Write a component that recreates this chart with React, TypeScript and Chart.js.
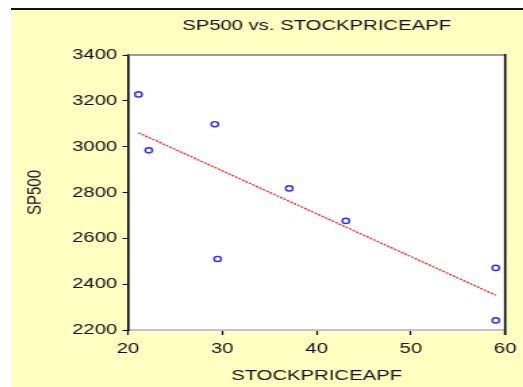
import React, { useEffect, useRef } from "react";
import { Chart, registerables } from "chart.js";

Chart.register(...registerables);

const chartTitle = "SP500 vs. STOCKPRICEAPF";
const xTitle = "STOCKPRICEAPF";
const yTitle = "SP500";

const stockPrice = [21.1, 22.2, 29.2, 29.5, 37.1, 43.1, 59.0, 59.0];
const sp500 = [3228, 2984, 3098, 2510, 2818, 2676, 2471, 2242];

const fitX = [21.1, 59.0];
const fitY = [3061, 2352];

const xTicks = [20, 30, 40, 50, 60];
const yTicks = [2200, 2400, 2600, 2800, 3000, 3200, 3400];

const FONT = '"Liberation Sans", Arial, sans-serif';
const TEXT = "#111111";
const SX = 523 / 387;

const framePlugin = {
  id: "frame",
  beforeDraw(chart: any) {
    const { ctx, chartArea } = chart;
    const { left, top, right, bottom } = chartArea;
    ctx.save();
    ctx.fillStyle = "#ffffff";
    ctx.fillRect(left, top, right - left, bottom - top);
    ctx.restore();
  },
  afterDraw(chart: any) {
    const { ctx, chartArea } = chart;
    const { left, top, right, bottom } = chartArea;
    ctx.save();
    ctx.strokeStyle = "#7a7a7a";
    ctx.lineWidth = 1.5;
    ctx.beginPath();
    ctx.moveTo(left, top);
    ctx.lineTo(right, top);
    ctx.stroke();
    ctx.strokeStyle = "#000000";
    ctx.lineWidth = 1.6;
    ctx.beginPath();
    ctx.moveTo(right, top - 1);
    ctx.lineTo(right, bottom + 5);
    ctx.stroke();
    ctx.fillStyle = TEXT;
    ctx.font = `15px ${FONT}`;
    ctx.textAlign = "center";
    ctx.textBaseline = "middle";
    ctx.fillText(chartTitle, (left + right) / 2, 16);
    ctx.restore();
  },
};

export default function App() {
  const ref = useRef<HTMLCanvasElement | null>(null);

  useEffect(() => {
    if (!ref.current) return;
    const chart = new Chart(ref.current, {
      type: "scatter",
      data: {
        datasets: [
          {
            label: "fit",
            data: fitX.map((x, i) => ({ x, y: fitY[i] })),
            showLine: true,
            borderColor: "#ff2020",
            borderWidth: 1.3,
            borderDash: [2, 1],
            pointRadius: 0,
            backgroundColor: "#ff2020",
          },
          {
            label: "obs",
            data: stockPrice.map((x, i) => ({ x, y: sp500[i] })),
            pointRadius: 2.6,
            pointBorderWidth: 1.4,
            pointBorderColor: "#2b2bff",
            pointBackgroundColor: "rgba(0,0,0,0)",
            borderColor: "#2b2bff",
            backgroundColor: "rgba(0,0,0,0)",
          },
        ],
      },
      plugins: [framePlugin],
      options: {
        responsive: false,
        animation: false,
        devicePixelRatio: 1,
        layout: { padding: { top: 45, right: 12, left: 0, bottom: 0 } },
        plugins: {
          legend: { display: false },
          title: { display: false },
          tooltip: { enabled: false },
        },
        scales: {
          x: {
            type: "linear",
            min: 20,
            max: 60,
            afterFit(scale: any) {
              scale.height = 57;
            },
            afterBuildTicks(scale: any) {
              scale.ticks = xTicks.map((v) => ({ value: v }));
            },
            ticks: {
              padding: 5,
              color: TEXT,
              font: { family: FONT, size: 15 },
              maxRotation: 0,
              callback: (v: any) => String(v),
            },
            grid: {
              drawOnChartArea: false,
              drawTicks: true,
              tickLength: 5,
              color: "#000",
              tickWidth: 1.2,
            },
            border: { display: true, color: "#c4c4c4", width: 2 },
            title: {
              display: true,
              text: xTitle,
              color: TEXT,
              font: { family: FONT, size: 15 },
              padding: { top: 0, bottom: 2.5 },
            },
          },
          y: {
            type: "linear",
            min: 2200,
            max: 3400,
            afterFit(scale: any) {
              scale.width = 86.6;
            },
            afterBuildTicks(scale: any) {
              scale.ticks = yTicks.map((v) => ({ value: v }));
            },
            ticks: {
              padding: 4,
              color: TEXT,
              font: { family: FONT, size: 15 },
              callback: (v: any) => String(v),
            },
            grid: {
              drawOnChartArea: false,
              drawTicks: true,
              tickLength: 4,
              color: "#000",
            },
            border: { display: true, color: "#000", width: 1.6 },
            title: {
              display: true,
              text: yTitle,
              color: TEXT,
              font: { family: FONT, size: 15 },
              padding: { top: 9.3, bottom: 0 },
            },
          },
        },
      },
    } as any);
    return () => chart.destroy();
  }, []);

  return (
    <div
      style={{
        position: "fixed",
        left: 0,
        top: 0,
        width: 523,
        height: 387,
        background: "#ffffff",
        overflow: "hidden",
      }}
    >
      <div
        style={{
          position: "absolute",
          left: 11,
          top: 8,
          right: 0,
          bottom: 0,
          background: "#FFFFC2",
          borderTop: "2px solid #111",
        }}
      />
      <div
        style={{
          position: "absolute",
          left: 11,
          top: 10,
          width: 379,
          height: 377,
          transform: `scaleX(${SX})`,
          transformOrigin: "0 0",
        }}
      >
        <canvas ref={ref} width={379} height={377} style={{ display: "block" }} />
      </div>
    </div>
  );
}
